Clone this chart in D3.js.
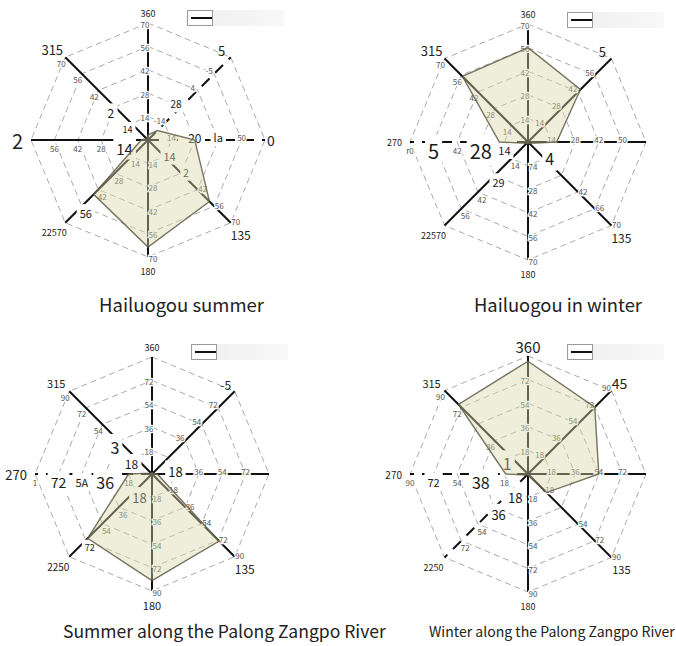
<!DOCTYPE html>
<meta charset="utf-8">
<body style="margin:0;background:#fff">
<script src="https://d3js.org/d3.v7.min.js"></script>
<script>
var width = 676, height = 646;

// compass directions of the eight spokes (degrees, clockwise from north)
var angles = [0, 45, 90, 135, 180, 225, 270, 315];

// ---- Hailuogou summer
var hsValues = [3, 8, 28, 52, 64, 46, 4, 1];
var hsRings = [14, 28, 42, 56, 70];
var hsTicks = [
  ["14", "28", "42", "56", "70"],
  ["-14", "28", "4", "-5", ""],
  ["14", "20", "la", "50", ""],
  ["14", "2", "42", "56", "70"],
  ["14", "28", "42", "56", "70"],
  ["14", "28", "42", "56", ""],
  ["14", "28", "42", "56", ""],
  ["14", "2", "42", "56", "70"]
];
var hsEnds = ["360", "5", "0", "135", "180", "22570", "2", "315"];

// ---- Hailuogou in winter
var hwValues = [56, 44, 17, 1, 1, 1, 17, 55];
var hwRings = [14, 28, 42, 56, 70];
var hwTicks = [
  ["14", "28", "42", "56", "70"],
  ["14", "28", "42", "56", ""],
  ["14", "28", "42", "50", ""],
  ["4", "", "42", "66", "70"],
  ["74", "28", "42", "56", "70"],
  ["14", "29", "42", "56", ""],
  ["14", "28", "42", "5", "r0"],
  ["14", "28", "42", "56", "70"]
];
var hwEnds = ["360", "5", "", "135", "180", "22570", "270", "315"];

// ---- Summer along the Palong Zangpo River
var psValues = [1, 1, 4, 73, 82, 70, 18, 1];
var psRings = [18, 36, 54, 72, 90];
var psTicks = [
  ["18", "36", "54", "72", ""],
  ["", "36", "54", "72", ""],
  ["18", "36", "54", "72", ""],
  ["18", "36", "54", "72", "90"],
  ["18", "36", "54", "72", "90"],
  ["18", "36", "54", "72", ""],
  ["18", "36", "5A", "72", "1"],
  ["18", "3", "54", "72", "90"]
];
var psEnds = ["360", "-5", "", "135", "180", "2250", "270", "315"];

// ---- Winter along the Palong Zangpo River
var pwValues = [86, 72, 54, 20, 1, 1, 17, 75];
var pwRings = [18, 36, 54, 72, 90];
var pwTicks = [
  ["18", "36", "54", "72", ""],
  ["18", "36", "54", "72", "90"],
  ["18", "36", "54", "72", ""],
  ["18", "", "54", "72", "90"],
  ["18", "36", "54", "72", "90"],
  ["18", "36", "54", "72", ""],
  ["18", "38", "54", "72", "90"],
  ["1", "36", "", "72", "90"]
];
var pwEnds = ["360", "45", "", "135", "180", "2250", "270", "315"];

var titles = ["Hailuogou summer", "Hailuogou in winter",
  "Summer along the Palong Zangpo River", "Winter along the Palong Zangpo River"];

// layout / style of each panel
var panels = [
  {values: hsValues, rings: hsRings, ticks: hsTicks, ends: hsEnds, title: titles[0],
   cx: 148, cy: 140, r: 117, dashed: [1, 2],
   endSize: [9, 13, 14, 12, 9, 9, 20, 13],
   big: {"1-1": 10, "2-1": 12, "2-2": 11, "3-0": 11, "3-1": 10, "5-3": 11, "6-0": 15, "7-1": 12, "7-0": 9},
   tx: 99, tw: 165, ty: 312},
  {values: hwValues, rings: hwRings, ticks: hwTicks, ends: hwEnds, title: titles[1],
   cx: 528, cy: 142, r: 118, dashed: [6],
   endSize: [9, 13, 9, 12, 9, 9, 9, 13],
   big: {"3-0": 16, "5-1": 11, "6-0": 11, "6-1": 20, "6-3": 20},
   tx: 474, tw: 168, ty: 312},
  {values: psValues, rings: psRings, ticks: psTicks, ends: psEnds, title: titles[2],
   cx: 152, cy: 474, r: 117, dashed: [6],
   endSize: [9, 12, 9, 12, 11, 10, 13, 11],
   big: {"2-0": 13, "5-0": 13, "5-3": 9, "6-1": 16, "6-2": 11, "6-3": 14, "7-0": 12, "7-1": 16},
   tx: 63, tw: 323, ty: 638},
  {values: pwValues, rings: pwRings, ticks: pwTicks, ends: pwEnds, title: titles[3],
   cx: 528, cy: 474, r: 118, dashed: [5, 6], neFlip: true,
   endSize: [15, 14, 9, 11, 9, 9, 10, 11],
   big: {"5-0": 13, "5-1": 13, "6-1": 16, "6-3": 11, "7-0": 16},
   tx: 429, tw: 246, ty: 637}
];

// label nudges per spoke, and end-label offsets from the spoke tip
var tickOff = [[-3, 1], [-5, -3], [0, -3], [5, -1], [5, 1], [4, 7], [0, 8], [-4, 6]];
var endOff = [[0, -10], [-9, -7], [6, 0], [10, 12], [0, 14], [-11, 10], [-8, 0], [-13, -8]];

var svg = d3.select("body").append("svg")
    .attr("width", width)
    .attr("height", height)
    .style("font-family", "'Noto Sans CJK SC', 'Noto Sans', sans-serif");

var defs = svg.append("defs");
var grad = defs.append("linearGradient").attr("id", "lg");
grad.append("stop").attr("offset", "0%").attr("stop-color", "#eeeeee");
grad.append("stop").attr("offset", "100%").attr("stop-color", "#f8f8f8");

function pt(cx, cy, a, rr) {
  var t = a * Math.PI / 180;
  return [cx + rr * Math.sin(t), cy - rr * Math.cos(t)];
}

panels.forEach(function(p) {
  var g = svg.append("g");
  var max = d3.max(p.rings);
  var rScale = d3.scaleLinear().domain([0, max]).range([0, p.r]);
  var closed = d3.line().curve(d3.curveLinearClosed);

  // dashed octagon grid
  g.selectAll(".ring")
    .data(p.rings)
    .enter()
    .append("path")
    .attr("d", function(v) {
      return closed(angles.map(function(a) { return pt(p.cx, p.cy, a, rScale(v)); }));
    })
    .attr("fill", "none")
    .attr("stroke", "#aaa")
    .attr("stroke-width", 1)
    .attr("stroke-dasharray", "6,4");

  // spokes
  g.selectAll(".spoke")
    .data(angles)
    .enter()
    .append("line")
    .attr("x1", p.cx).attr("y1", p.cy)
    .attr("x2", function(a) { return pt(p.cx, p.cy, a, p.r)[0]; })
    .attr("y2", function(a) { return pt(p.cx, p.cy, a, p.r)[1]; })
    .attr("stroke", "#111")
    .attr("stroke-width", 2)
    .attr("stroke-dasharray", function(a, i) { return p.dashed.indexOf(i) >= 0 ? "11,8" : null; });

  // tick labels along spokes
  p.ticks.forEach(function(row, i) {
    row.forEach(function(txt, j) {
      if (!txt) return;
      var xy = pt(p.cx, p.cy, angles[i], rScale(p.rings[j]));
      var x = xy[0] + tickOff[i][0], y = xy[1] + tickOff[i][1];
      var size = p.big[i + "-" + j];
      if (size) {
        var bg = g.append("rect").attr("fill", "#fff");
        var t = g.append("text")
          .attr("x", x).attr("y", y)
          .attr("text-anchor", "middle")
          .attr("dominant-baseline", "central")
          .attr("font-size", size)
          .attr("fill", "#1a1a1a")
          .text(txt);
        var b = t.node().getBBox();
        bg.attr("x", b.x - 3).attr("y", b.y - 1).attr("width", b.width + 6).attr("height", b.height + 2);
      } else {
        g.append("text")
          .attr("x", x).attr("y", y)
          .attr("text-anchor", "middle")
          .attr("dominant-baseline", "central")
          .attr("font-size", 8)
          .attr("fill", "#555")
          .attr("stroke", "#fff")
          .attr("stroke-width", 2.5)
          .attr("paint-order", "stroke")
          .text(txt);
      }
    });
  });

  // compass labels at the end of each spoke
  p.ends.forEach(function(txt, i) {
    if (!txt) return;
    var tip = pt(p.cx, p.cy, angles[i], p.r);
    var off = endOff[i];
    if (i === 1 && p.neFlip) off = [8, -8];
    g.append("text")
      .attr("x", tip[0] + off[0]).attr("y", tip[1] + off[1])
      .attr("text-anchor", i === 6 ? "end" : "middle")
      .attr("dominant-baseline", "central")
      .attr("font-size", p.endSize[i])
      .attr("fill", "#222")
      .text(txt);
  });

  // data polygon, drawn translucent over everything
  g.append("path")
    .attr("d", closed(p.values.map(function(v, i) { return pt(p.cx, p.cy, angles[i], rScale(v)); })))
    .attr("fill", "#d8d6a6")
    .attr("fill-opacity", 0.42)
    .attr("stroke", "#5e5e48")
    .attr("stroke-opacity", 0.85)
    .attr("stroke-width", 1.4);

  // legend box (top right)
  var lg = g.append("g").attr("transform", "translate(" + (p.cx + 39) + "," + (p.cy - 130) + ")");
  lg.append("rect").attr("width", 97).attr("height", 16).attr("fill", "url(#lg)");
  lg.append("rect").attr("x", 0.5).attr("y", 0.5).attr("width", 25).attr("height", 15)
    .attr("fill", "#fff").attr("stroke", "#999");
  lg.append("line").attr("x1", 4).attr("x2", 25).attr("y1", 8).attr("y2", 8)
    .attr("stroke", "#111").attr("stroke-width", 2);

  // title, sized to fit the measured width
  var tt = svg.append("text")
    .attr("x", p.tx).attr("y", p.ty)
    .attr("font-size", 20)
    .attr("fill", "#222")
    .text(p.title);
  var w = tt.node().getComputedTextLength();
  tt.attr("font-size", 20 * p.tw / w);
});
</script>
</body>
